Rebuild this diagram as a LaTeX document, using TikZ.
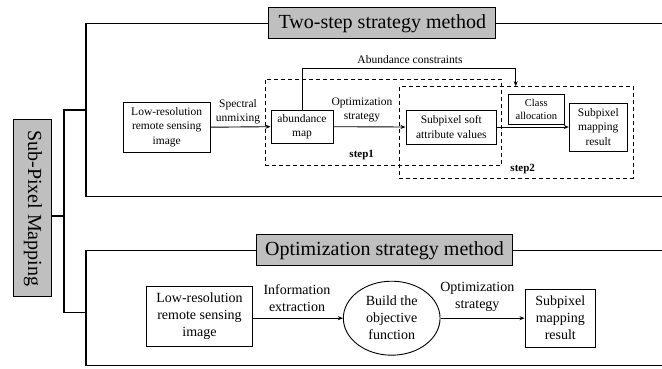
\documentclass[tikz,border=0pt]{standalone}
\usepackage{fontspec}
\setmainfont{Liberation Serif}
\usetikzlibrary{arrows.meta,shapes.geometric}
\tikzset{
  box/.style={draw, line width=0.9pt, inner sep=1pt, align=center, font=\fontsize{11.5}{14.3}\selectfont},
  bigbox/.style={draw, line width=0.9pt, inner sep=1pt, align=center, font=\fontsize{14}{17}\selectfont},
  title/.style={draw, line width=1pt, fill=gray!50, inner sep=2pt, font=\fontsize{20}{24}\selectfont},
  lbl/.style={align=center, inner sep=0pt, font=\fontsize{11.5}{14.3}\selectfont},
  biglbl/.style={align=center, inner sep=0pt, font=\fontsize{14}{17}\selectfont},
  dbox/.style={draw, dashed, dash pattern=on 4pt off 3pt, line width=0.9pt, inner sep=0pt},
  frame/.style={line width=1.1pt},
  arr/.style={line width=0.9pt, -{Stealth[length=5pt,width=4pt]}},
}
\begin{document}
\begin{tikzpicture}[x=1pt,y=-1pt]
\useasboundingbox (0,0) rectangle (662,369);
% side label
\node[title, rotate=-90, minimum width=176.7pt, minimum height=37.7pt] (spm) at (32.8,208.3) {Sub-Pixel Mapping};
% titles
\node[title, minimum width=226.7pt, minimum height=31pt] (t1) at (382.3,23.5) {Two-step strategy method};
\node[title, minimum width=255.6pt, minimum height=30.7pt] (t2) at (384.5,250.3) {Optimization strategy method};
% coordinates for frames
\coordinate (b0) at (64,216);
\coordinate (bs) at (51.65,216);
\coordinate (bt) at (64,110);
\coordinate (bb) at (64,312.3);
\coordinate (p1l) at (86,110);
\coordinate (p2l) at (86,312.3);
\coordinate (p1tl) at (86,23.3);
\coordinate (p1bl) at (86,196.7);
\coordinate (p1br) at (662,196.7);
\coordinate (p1tr) at (662,23.3);
\coordinate (p2tl) at (86,250.5);
\coordinate (p2bl) at (86,365.7);
\coordinate (p2br) at (662,365.7);
\coordinate (p2tr) at (662,250.5);
% bracket
\draw[frame] (bs) -- (b0);
\draw[frame] (p1l) -- (bt) -- (bb) -- (p2l);
% top frame
\draw[frame] (t1.west |- p1tl) -- (p1tl) -- (p1bl) -- (p1br);
\draw[frame] (t1.east |- p1tr) -- (p1tr);
% bottom frame
\draw[frame] (t2.west |- p2tl) -- (p2tl) -- (p2bl) -- (p2br);
\draw[frame] (t2.east |- p2tr) -- (p2tr);
% dashed step boxes
\node[dbox, minimum width=236.7pt, minimum height=85.7pt] (s1) at (383.35,122.15) {};
\node[dbox, minimum width=234pt, minimum height=91.6pt] (s2) at (516.3,132.5) {};
% top panel nodes
\node[box, minimum width=86.7pt, minimum height=49.7pt] (lr1) at (166.7,127.2) {Low-resolution\\remote sensing\\image};
\node[box, minimum width=62pt, minimum height=33.3pt] (am) at (302,126.7) {abundance\\map};
\node[box, minimum width=90.7pt, minimum height=34pt] (sa) at (451.3,127) {Subpixel soft\\attribute values};
\node[box, minimum width=56pt, minimum height=29.7pt, font=\fontsize{10.5}{13}\selectfont] (ca) at (536.3,109.2) {Class\\allocation};
\node[box, minimum width=58pt, minimum height=48pt] (smr) at (598.3,127) {Subpixel\\mapping\\result};
% top labels
\node[lbl] (l1) at (238,112) {Spectral\\unmixing};
\node[lbl] (l2) at (362,110) {Optimization\\strategy};
\node[lbl] (l3) at (410,60) {Abundance constraints};
\node[lbl, font=\fontsize{11}{13}\selectfont\bfseries] (st1) at (361.7,155.5) {step1};
\node[lbl, font=\fontsize{11}{13}\selectfont\bfseries] (st2) at (522.7,169.5) {step2};
% top arrows
\draw[arr] (lr1.east) -- (am.west);
\draw[arr] (am.east) -- (sa.west);
\draw[arr] (sa.east) -- (smr.west |- sa.east);
\coordinate (ac) at (515.7,68.3);
\draw[arr] (am.north) |- (ac) -- (ac |- s2.north);
% bottom panel
\node[bigbox, minimum width=105.6pt, minimum height=59.3pt] (lr2) at (199.5,316.3) {Low-resolution\\remote sensing\\image};
\node[bigbox, ellipse, inner sep=0pt, minimum width=96.7pt, minimum height=74pt] (ell) at (391.7,318.2) {Build the\\objective\\function};
\node[bigbox, minimum width=70.7pt, minimum height=58pt] (smr2) at (560.3,318.2) {Subpixel\\mapping\\result};
\node[biglbl] (l4) at (297,298) {Information\\extraction};
\node[biglbl] (l5) at (477.3,296.5) {Optimization\\strategy};
\draw[arr] (lr2.east |- ell.west) -- (ell.west);
\draw[arr] (ell.east) -- (smr2.west |- ell.east);
\end{tikzpicture}
\end{document}
